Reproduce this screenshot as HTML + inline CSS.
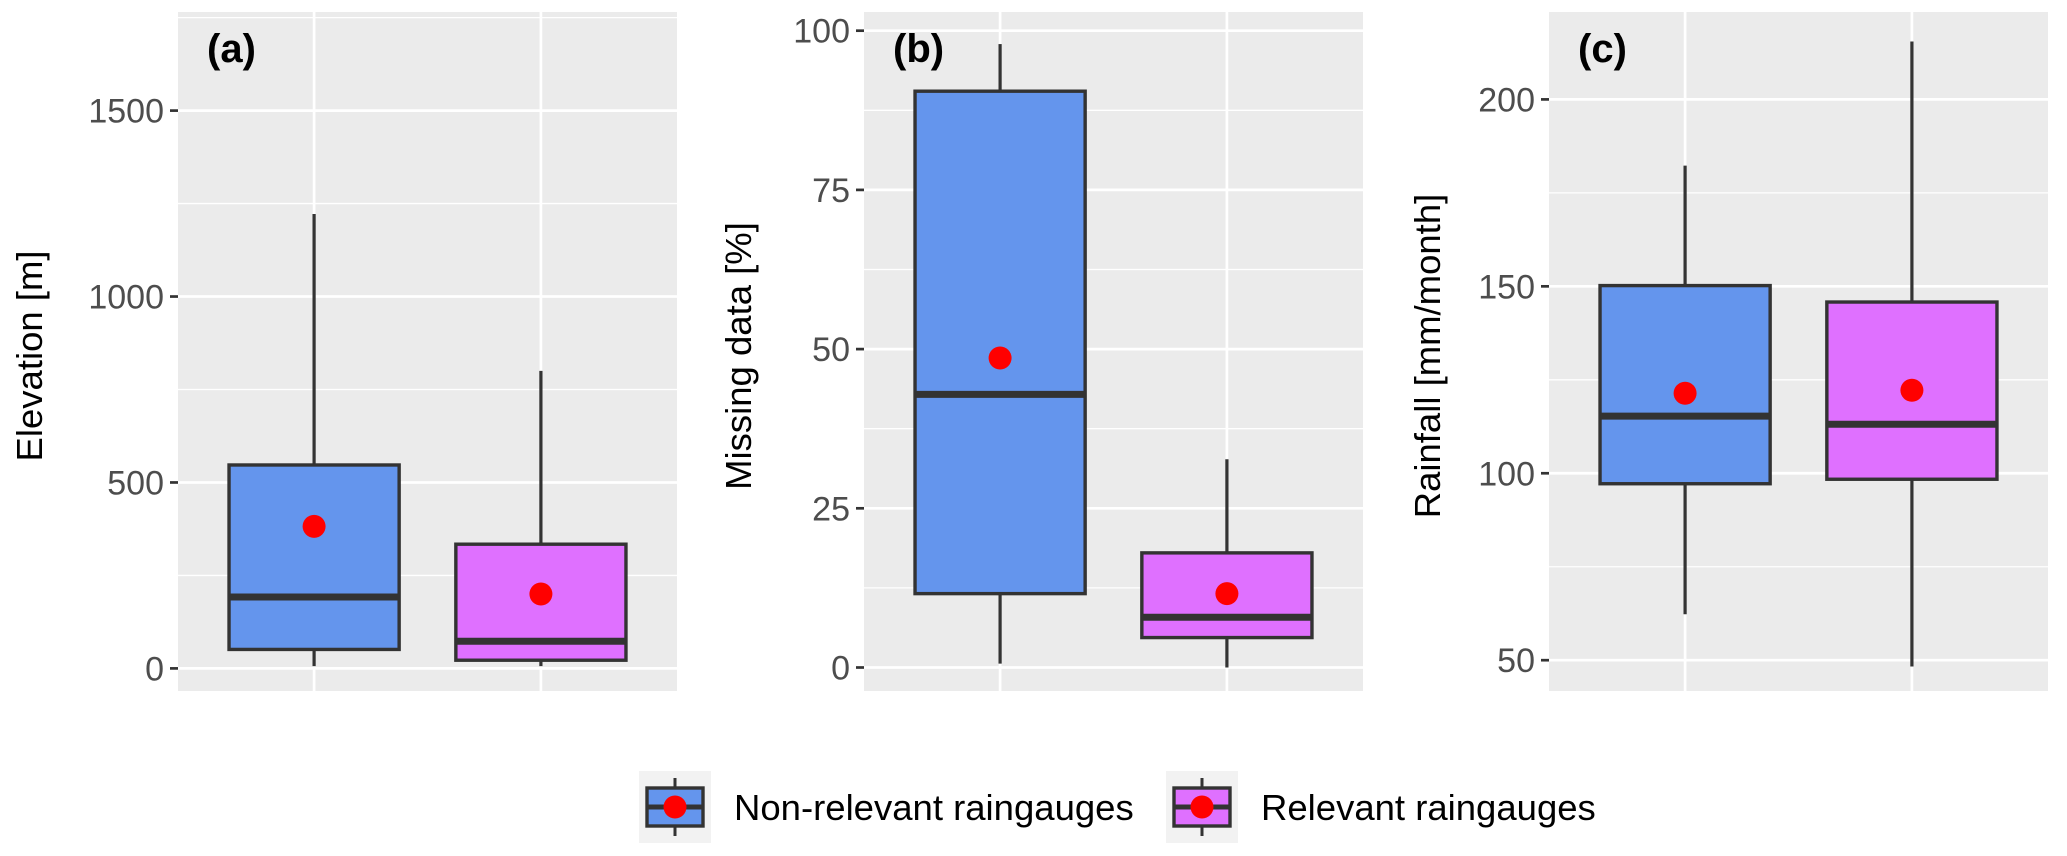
<!DOCTYPE html>
<html><head><meta charset="utf-8"><style>
html,body{margin:0;padding:0;background:#fff;}
svg{display:block;font-family:"Liberation Sans",Arial,sans-serif;}
</style></head><body>
<svg id="chart" width="2067" height="856" viewBox="0 0 2067 856"></svg>
<script>
const categories = ["Non-relevant raingauges", "Relevant raingauges"];
const panelLabels = ["(a)", "(b)", "(c)"];
const axisTitles = ["Elevation [m]", "Missing data [%]", "Rainfall [mm/month]"];
// per panel: [non-relevant, relevant] stats
const lowWhisker = [[6, 6], [0.6, 0], [62.3, 48.3]];
const q1Values = [[51, 22], [11.6, 4.7], [97.2, 98.4]];
const medianValues = [[192, 73], [42.9, 7.9], [115.3, 113.1]];
const q3Values = [[547, 334], [90.5, 18], [150.2, 145.8]];
const highWhisker = [[1222, 800], [97.9, 32.7], [182.3, 215.5]];
const meanValues = [[382, 200], [48.6, 11.6], [121.4, 122.2]];
const tickLabels = [[0, 500, 1000, 1500], [0, 25, 50, 75, 100], [50, 100, 150, 200]];

const NS = "http://www.w3.org/2000/svg";
const svg = document.getElementById("chart");
const fills = ["#6495ED", "#DF70FF"];
const layout = [
  {x0: 178, x1: 677, top: 12, bottom: 691, titleX: 42, refLo: [0, 668.4], refHi: [1500, 110.6]},
  {x0: 864, x1: 1363, top: 12, bottom: 691, titleX: 751, refLo: [0, 667.5], refHi: [100, 30.7]},
  {x0: 1549, x1: 2048, top: 12, bottom: 691, titleX: 1440, refLo: [50, 660.2], refHi: [200, 99.4]}
];
function mk(tag, attrs, parent) {
  const e = document.createElementNS(NS, tag);
  for (const k in attrs) e.setAttribute(k, attrs[k]);
  (parent || svg).appendChild(e);
  return e;
}
layout.forEach((L, p) => {
  const g = mk("g", {});
  
  
  const [v0, y0] = L.refLo, [v1, y1] = L.refHi;
  const y = v => y0 + (v - v0) * (y1 - y0) / (v1 - v0);
  const w = L.x1 - L.x0;
  const xc = i => L.x0 + w * (0.6 + i) / 2.2;
  const bw = w * 0.75 / 2.2;
  const bg = mk("rect", {x: L.x0, y: L.top, width: w, height: L.bottom - L.top, fill: "#EBEBEB"}, g);
  
  
  const ticks = tickLabels[p];
  const step = ticks[1] - ticks[0];
  for (let k = -1; k < ticks.length; k++) {
    const yy = y(ticks[0] + (k + 0.5) * step);
    if (yy > L.top && yy < L.bottom) mk("line", {x1: L.x0, x2: L.x1, y1: yy, y2: yy, stroke: "#fff", "stroke-width": 1.3}, g);
  }
  ticks.forEach(v => {
    const yy = y(v);
    const gl = mk("line", {x1: L.x0, x2: L.x1, y1: yy, y2: yy, stroke: "#fff", "stroke-width": 2.7}, g);
    
    
    mk("line", {x1: L.x0 - 8, x2: L.x0, y1: yy, y2: yy, stroke: "#333", "stroke-width": 2.7}, g);
    const t = mk("text", {x: L.x0 - 14, y: yy + 12, "text-anchor": "end", "font-size": 34, fill: "#4D4D4D"}, g);
    t.textContent = v;
    
    
  });
  [0, 1].forEach(i => {
    mk("line", {x1: xc(i), x2: xc(i), y1: L.top, y2: L.bottom, stroke: "#fff", "stroke-width": 2.7}, g);
  });
  [0, 1].forEach(i => {
    const cx = xc(i);
    const bx = mk("g", {}, g);
    
    
    mk("line", {x1: cx, x2: cx, y1: y(highWhisker[p][i]), y2: y(q3Values[p][i]), stroke: "#333", "stroke-width": 3.2}, bx);
    mk("line", {x1: cx, x2: cx, y1: y(q1Values[p][i]), y2: y(lowWhisker[p][i]), stroke: "#333", "stroke-width": 3.2}, bx);
    mk("rect", {x: cx - bw / 2, y: y(q3Values[p][i]), width: bw, height: y(q1Values[p][i]) - y(q3Values[p][i]), fill: fills[i], stroke: "#333", "stroke-width": 3.4}, bx);
    mk("line", {x1: cx - bw / 2, x2: cx + bw / 2, y1: y(medianValues[p][i]), y2: y(medianValues[p][i]), stroke: "#333", "stroke-width": 7}, bx);
    const m = mk("circle", {cx: cx, cy: y(meanValues[p][i]), r: 11.5, fill: "#FF0000"}, bx);
    
    
  });
  const pl = mk("text", {x: L.x0 + 29, y: L.top + 50, "font-size": 40, "font-weight": "bold", fill: "#000"}, g);
  pl.textContent = panelLabels[p];
  
  
  const ty = 356;
  const at = mk("text", {x: L.titleX, y: ty, "text-anchor": "middle", "font-size": 36.5, fill: "#000", transform: `rotate(-90 ${L.titleX} ${ty})`}, g);
  at.textContent = axisTitles[p];
  
  
});
const leg = mk("g", {});


const legX = [639, 1166], txtX = [734, 1261];
categories.forEach((c, i) => {
  const e = mk("g", {}, leg);
  
  
  const kx = legX[i], ky = 771, ks = 72;
  mk("rect", {x: kx, y: ky, width: ks, height: ks, fill: "#F2F2F2"}, e);
  const cx = kx + ks / 2;
  mk("line", {x1: cx, x2: cx, y1: ky + 7, y2: ky + ks - 7, stroke: "#333", "stroke-width": 3}, e);
  mk("rect", {x: kx + 8, y: ky + 17, width: ks - 16, height: ks - 34, fill: fills[i], stroke: "#333", "stroke-width": 3.4}, e);
  mk("line", {x1: kx + 8, x2: kx + ks - 8, y1: ky + ks / 2, y2: ky + ks / 2, stroke: "#333", "stroke-width": 5}, e);
  mk("circle", {cx: cx, cy: ky + ks / 2, r: 11.5, fill: "#FF0000"}, e);
  const t = mk("text", {x: txtX[i], y: ky + ks / 2 + 13, "font-size": 36.5, fill: "#000"}, e);
  t.textContent = c;
  
  
});
</script>
</body></html>
